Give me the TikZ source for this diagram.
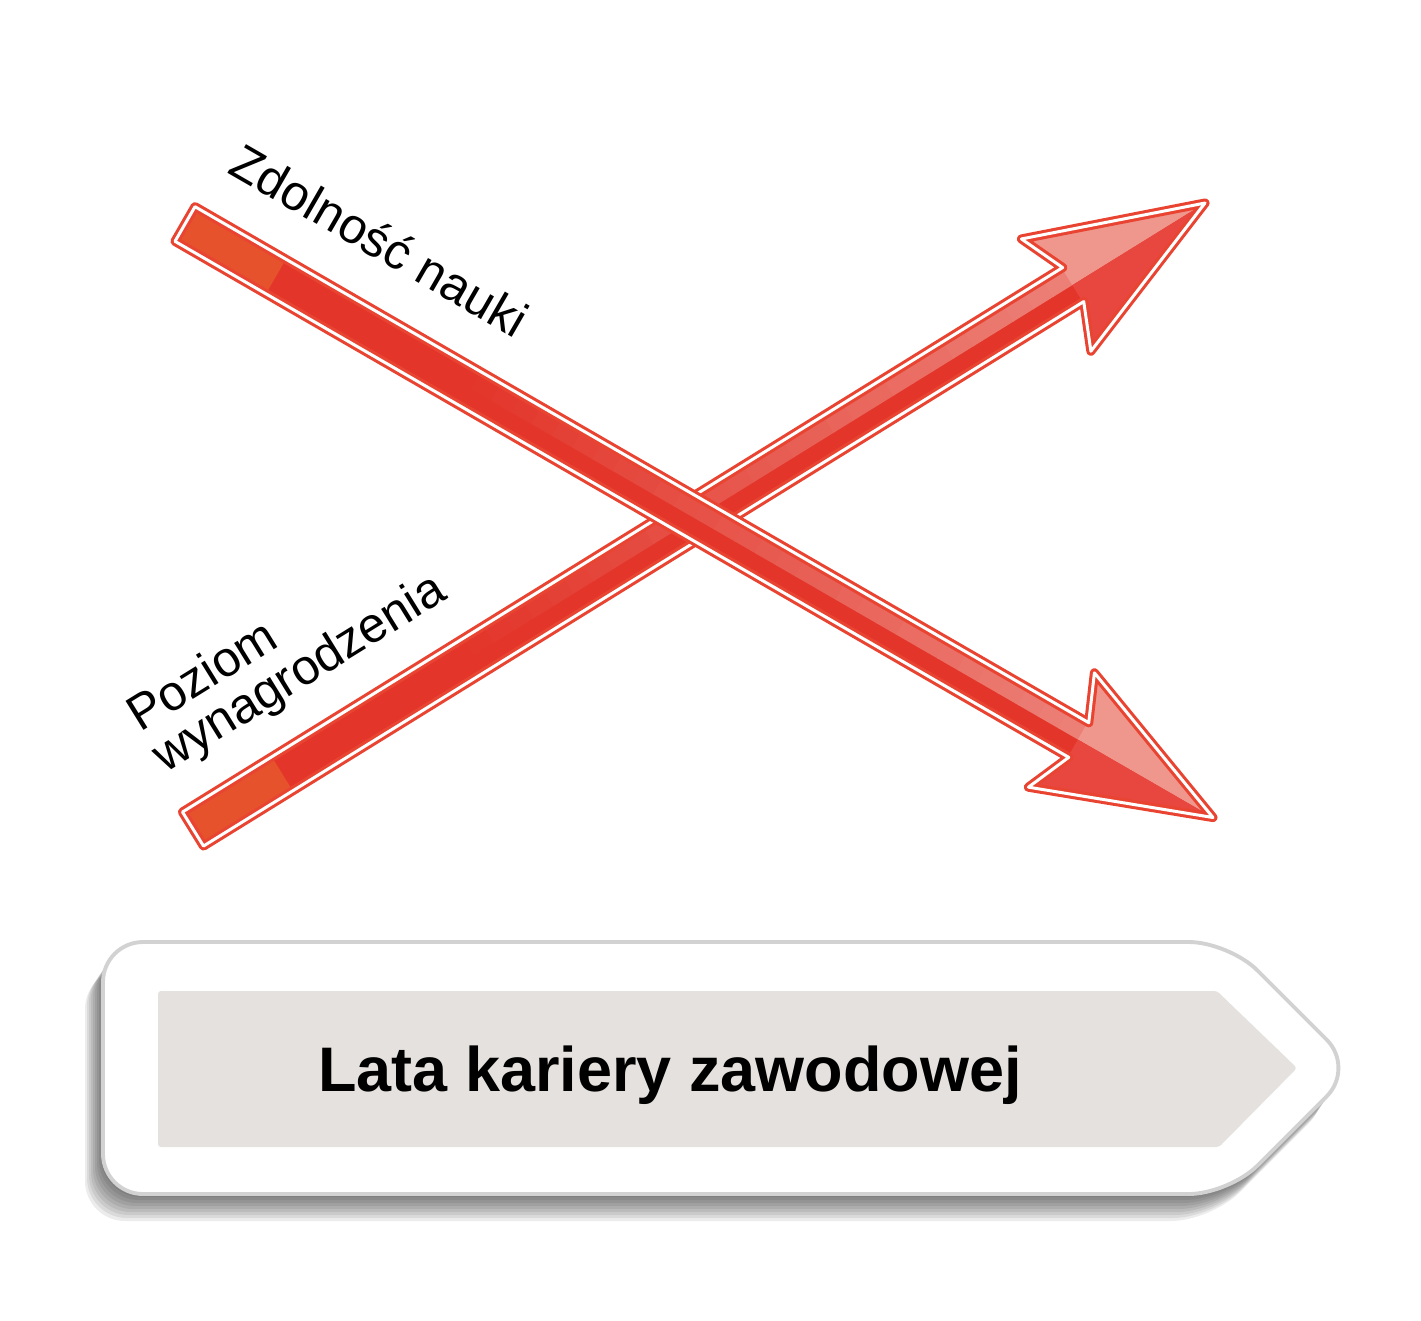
\documentclass[tikz,border=0pt]{standalone}
\usepackage{fontspec}
\setmainfont{Liberation Sans}
\definecolor{arrowred}{HTML}{E3352A}
\definecolor{tailorange}{HTML}{E5522B}
\definecolor{edgered}{HTML}{E94432}
\definecolor{lightred}{HTML}{EC8178}
\definecolor{headlight}{HTML}{F0978D}
\definecolor{headdark}{HTML}{E8473F}
\definecolor{boxborder}{HTML}{D2D2D2}
\definecolor{innergray}{HTML}{E5E1DE}
\tikzset{
  lbl/.style={font=\fontsize{14.1pt}{16pt}\selectfont, inner sep=0pt, anchor=base west, text=black},
  arrowedge/.style={draw=edgered, line width=2.6pt, line join=round},
  arrowinner/.style={draw=white, line width=0.85pt, line join=round},
  titlefont/.style={font=\fontsize{17.9pt}{20pt}\selectfont\bfseries, inner sep=0pt, anchor=base, text=black},
}
\newcommand{\arrowpoly}{(0,-20) -- ({\L-155},-20) -- ({\L-175},-66) -- (\L,0) -- ({\L-175},66) -- ({\L-155},20) -- (0,20) -- cycle}
\newcommand{\drawredarrow}{%
  \fill[arrowred] \arrowpoly;
  \fill[tailorange] (0,-20) rectangle (105,20);
  \pgfmathsetmacro{\dx}{(\L-485)/30}
  \foreach \i in {0,...,29}{
    \pgfmathsetmacro{\xa}{330+\dx*\i}
    \pgfmathsetmacro{\xb}{\xa+\dx+1}
    \pgfmathtruncatemacro{\pc}{round(100*(\i+0.5)/30)}
    \fill[lightred!\pc!arrowred] (\xa,-20) rectangle (\xb,0);
  }
  \fill[headlight] ({\L-156},-20) -- ({\L-175},-66) -- (\L,0) -- ({\L-156},0) -- cycle;
  \fill[headdark] ({\L-156},0) -- (\L,0) -- ({\L-175},66) -- ({\L-156},20) -- cycle;
  \draw[arrowedge] \arrowpoly;
  \draw[arrowinner] \arrowpoly;
}
\newcommand{\boxpath}{(103,942) -- (1229,942) -- (1355,1068) -- (1229,1194) -- (103,1194) -- cycle}
\begin{document}
\begin{tikzpicture}[x=0.01cm, y=-0.01cm]
\useasboundingbox (0,0) rectangle (1421,1320);

% named anchor points of the two arrows
\coordinate (tailA) at (185,224);
\coordinate (tailB) at (193,829);

% Arrow 2 (Poziom wynagrodzenia), rising, drawn below
\begin{scope}[shift={(tailB)}, rotate=31.74]
  \def\L{1190}
  \drawredarrow
\end{scope}

% Arrow 1 (Zdolnosc nauki), falling, drawn on top
\begin{scope}[shift={(tailA)}, rotate=-30]
  \def\L{1187}
  \drawredarrow
\end{scope}

% labels
\node[lbl, rotate=-30] (lblZ) at (226,172) {Zdolność nauki};
\node[lbl, rotate=31.74] (lblP1) at (139.5,733) {Poziom};
\node[lbl, rotate=31.74] (lblP2) at (164.5,774) {wynagrodzenia};

% bottom box: soft shadow
\foreach \k in {1,...,9}{
  \fill[black, opacity=0.075, rounded corners=0.4cm, shift={({-2*\k},{3*\k})}] \boxpath;
}
\fill[white, rounded corners=0.4cm] \boxpath;
\draw[boxborder, line width=1.1pt, rounded corners=0.4cm] \boxpath;
\fill[innergray, rounded corners=0.03cm] (158,991) -- (1217,991) -- (1297,1068) -- (1219,1147) -- (158,1147) -- cycle;
\node[titlefont] (title) at (670,1091) {Lata kariery zawodowej};
\end{tikzpicture}
\end{document}
